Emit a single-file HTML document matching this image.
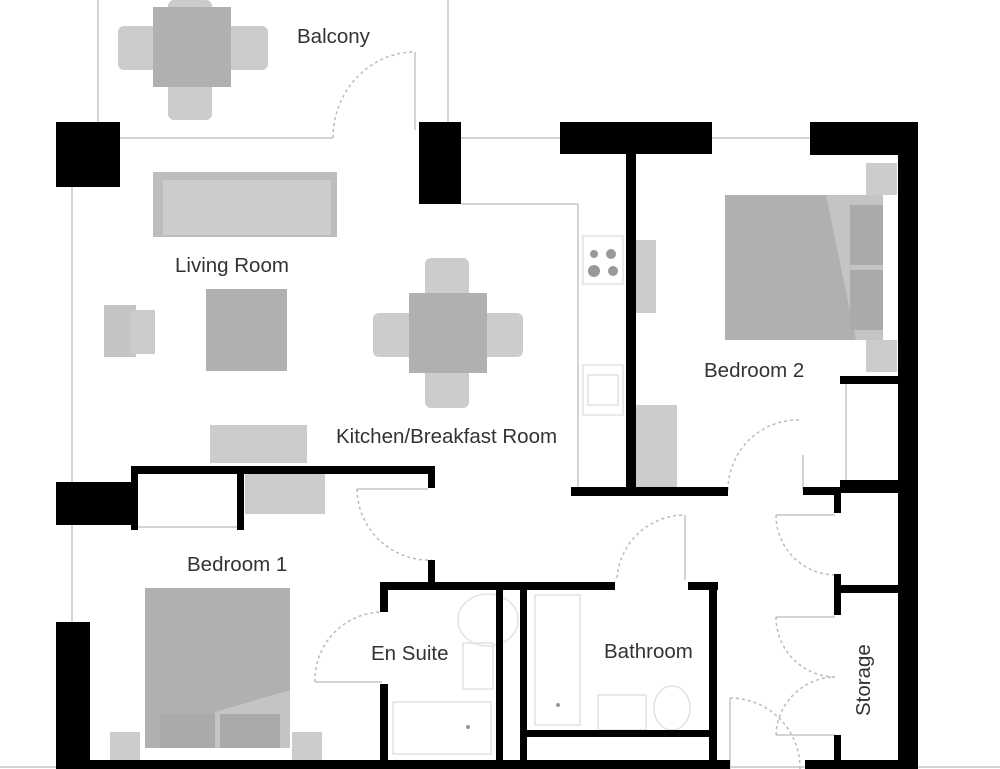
<!DOCTYPE html>
<html><head><meta charset="utf-8"><style>
html,body{margin:0;padding:0;background:#fff;}
svg{display:block}
text{font-family:"Liberation Sans",sans-serif;font-size:20.5px;fill:#333;}
</style></head><body>
<svg width="1000" height="769" viewBox="0 0 1000 769" xmlns="http://www.w3.org/2000/svg">
<rect width="1000" height="769" fill="#fff"/>
<g stroke="#d4d4d4" stroke-width="2" fill="none">
<line x1="98" y1="0" x2="98" y2="122"/>
<line x1="448" y1="0" x2="448" y2="122"/>
<line x1="120" y1="138" x2="333" y2="138"/>
<line x1="415" y1="52" x2="415" y2="130"/>
<line x1="461" y1="138" x2="560" y2="138"/>
<line x1="712" y1="138" x2="810" y2="138"/>
<line x1="72" y1="187" x2="72" y2="622"/>
<line x1="461" y1="204" x2="578" y2="204"/>
<line x1="578" y1="204" x2="578" y2="487"/>
<line x1="846" y1="383" x2="846" y2="482"/>
<line x1="137" y1="527" x2="237" y2="527"/>
<line x1="357" y1="489" x2="428" y2="489"/>
<line x1="315" y1="682" x2="382" y2="682"/>
<line x1="685" y1="515" x2="685" y2="580"/>
<line x1="803" y1="455" x2="803" y2="490"/>
<line x1="776" y1="515" x2="835" y2="515"/>
<line x1="776" y1="617" x2="835" y2="617"/>
<line x1="776" y1="735" x2="835" y2="735"/>
<line x1="730" y1="698" x2="730" y2="769"/>
<line x1="0" y1="767" x2="1000" y2="767"/>
</g>
<g stroke="#bbb" stroke-width="1.5" fill="none" stroke-dasharray="3,3">
<path d="M333 138 A82 86 0 0 1 415 52"/>
<path d="M357 489 A72 72 0 0 0 432 560"/>
<path d="M315 682 A68 68 0 0 1 382 612"/>
<path d="M617 578 A68 68 0 0 1 685 515"/>
<path d="M728 490 A70 70 0 0 1 800 420"/>
<path d="M776 515 A60 60 0 0 0 835 575"/>
<path d="M776 617 A60 60 0 0 0 835 677"/>
<path d="M776 735 A60 60 0 0 1 835 677"/>
<path d="M730 698 A70 70 0 0 1 800 769"/>
</g>
<g stroke="#e2e2e2" stroke-width="1.5" fill="none">
<rect x="583" y="236" width="40" height="48"/>
<rect x="583" y="365" width="40" height="50"/>
<rect x="588" y="375" width="30" height="30"/>
<ellipse cx="488" cy="620" rx="30" ry="26"/>
<rect x="463" y="643" width="30" height="46"/>
<rect x="393" y="702" width="98" height="52"/>
<rect x="535" y="595" width="45" height="130"/>
<rect x="598" y="695" width="48" height="35"/>
<ellipse cx="672" cy="708" rx="18" ry="22"/>
</g>
<g fill="#999"><circle cx="594" cy="254" r="4"/><circle cx="611" cy="254" r="5"/><circle cx="594" cy="271" r="6"/><circle cx="613" cy="271" r="5"/><circle cx="468" cy="727" r="2"/><circle cx="558" cy="705" r="2"/></g>
<g fill="#ccc">
<rect x="153" y="172" width="184" height="65" fill="#bdbdbd"/>
<rect x="163" y="180" width="168" height="55"/>
<rect x="104" y="305" width="32" height="52" fill="#c4c4c4"/>
<rect x="130" y="310" width="25" height="44"/>
<rect x="118" y="26" width="150" height="44" rx="6"/>
<rect x="168" y="0" width="44" height="120" rx="6"/>
<rect x="373" y="313" width="150" height="44" rx="6"/>
<rect x="425" y="258" width="44" height="150" rx="6"/>
<rect x="210" y="425" width="97" height="38"/>
<rect x="245" y="474" width="80" height="40"/>
<rect x="636" y="240" width="20" height="73"/>
<rect x="636" y="405" width="41" height="82"/>
<rect x="866" y="163" width="31" height="32"/>
<rect x="866" y="340" width="31" height="32"/>
<rect x="110" y="732" width="30" height="37"/>
<rect x="292" y="732" width="30" height="37"/>
</g>
<g fill="#b0b0b0">
<rect x="153" y="7" width="78" height="80"/>
<rect x="409" y="293" width="78" height="80"/>
<rect x="206" y="289" width="81" height="82"/>
<rect x="725" y="195" width="158" height="145"/>
<rect x="145" y="588" width="145" height="160"/>
</g>
<polygon points="826,195 883,195 883,340 856,340" fill="#c4c4c4"/>
<rect x="850" y="205" width="33" height="60" fill="#aaa"/><rect x="850" y="270" width="33" height="60" fill="#aaa"/>
<polygon points="215,712 290,690 290,748 215,748" fill="#c4c4c4"/>
<rect x="160" y="714" width="55" height="34" fill="#aaa"/><rect x="220" y="714" width="60" height="34" fill="#aaa"/>
<g fill="#000">
<rect x="56" y="122" width="64" height="65"/>
<rect x="419" y="122" width="42" height="82"/>
<rect x="560" y="122" width="152" height="32"/>
<rect x="810" y="122" width="108" height="33"/>
<rect x="898" y="122" width="20" height="647"/>
<rect x="626" y="154" width="10" height="336"/>
<rect x="571" y="487" width="157" height="9"/>
<rect x="840" y="376" width="58" height="8"/>
<rect x="840" y="480" width="58" height="13"/>
<rect x="803" y="487" width="37" height="8"/>
<rect x="834" y="487" width="7" height="26"/>
<rect x="834" y="574" width="7" height="41"/>
<rect x="838" y="585" width="60" height="8"/>
<rect x="834" y="735" width="7" height="34"/>
<rect x="805" y="760" width="93" height="9"/>
<rect x="131" y="466" width="304" height="8"/>
<rect x="131" y="466" width="7" height="64"/>
<rect x="237" y="470" width="7" height="60"/>
<rect x="428" y="466" width="7" height="22"/>
<rect x="56" y="482" width="80" height="43"/>
<rect x="428" y="560" width="7" height="24"/>
<rect x="380" y="582" width="235" height="8"/>
<rect x="688" y="582" width="30" height="8"/>
<rect x="380" y="582" width="8" height="30"/>
<rect x="380" y="684" width="8" height="85"/>
<rect x="496" y="587" width="7" height="182"/>
<rect x="520" y="587" width="7" height="182"/>
<rect x="709" y="587" width="8" height="182"/>
<rect x="527" y="730" width="190" height="7"/>
<rect x="56" y="622" width="34" height="147"/>
<rect x="90" y="760" width="640" height="9"/>
</g>
<text x="297" y="43">Balcony</text>
<text x="175" y="272">Living Room</text>
<text x="336" y="443">Kitchen/Breakfast Room</text>
<text x="704" y="377">Bedroom 2</text>
<text x="187" y="571">Bedroom 1</text>
<text x="371" y="660">En Suite</text>
<text x="604" y="658">Bathroom</text>
<text x="0" y="0" transform="translate(870,716) rotate(-90)">Storage</text>
</svg>
</body></html>
